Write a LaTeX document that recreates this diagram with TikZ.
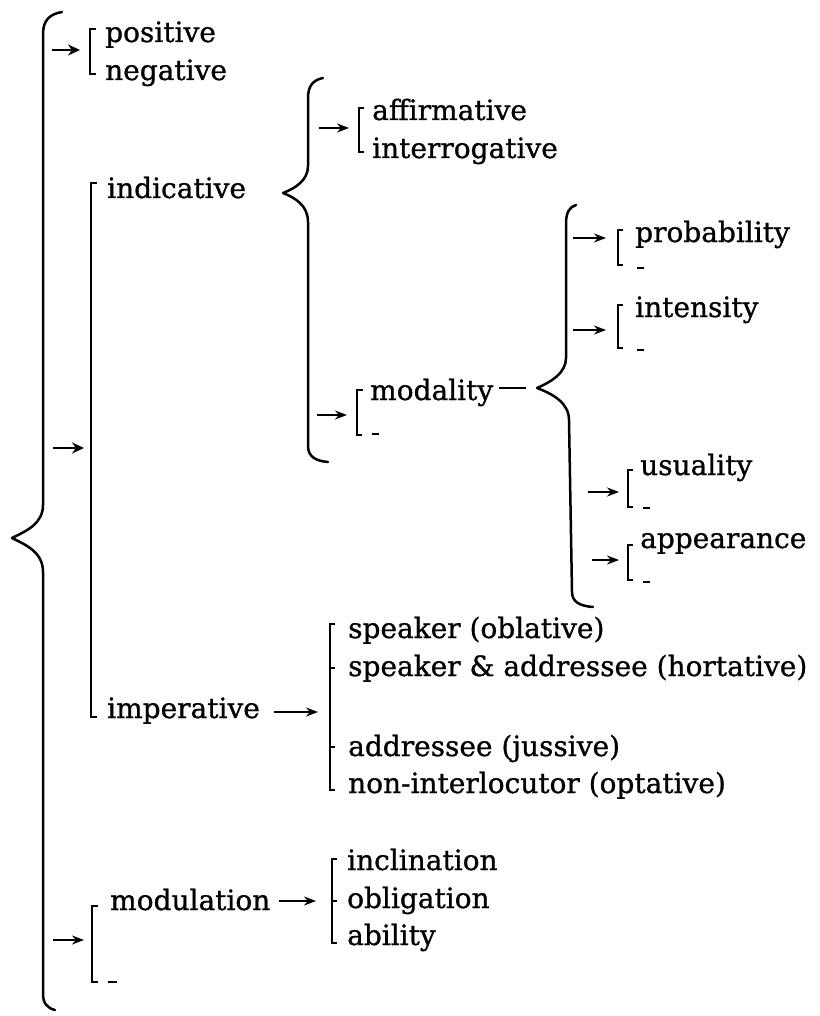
\documentclass[tikz,border=0pt]{standalone}
\usepackage{fontspec}
\setmainfont{DejaVu Serif}[FakeBold=0.9]
\usetikzlibrary{arrows.meta}

\begin{document}
\begin{tikzpicture}[x=1pt,y=-1pt,
  lbl/.style={anchor=base west, inner sep=0pt, font=\fontsize{28}{34}\selectfont},
  brk/.style={line width=2pt},
  brace/.style={line width=2.5pt, line cap=round, line join=round},
  tick/.style={line width=2.2pt},
  arr/.style={line width=1.7pt, -{Stealth[length=12pt,width=9pt]}},
  arrbold/.style={line width=2.8pt, -{Stealth[length=12pt,width=11pt]}}
]
\useasboundingbox (0,0) rectangle (819,1016);

% ---- terms ----
\node[lbl] (pos)  at (105,42)  {positive};
\node[lbl] (neg)  at (105,80)  {negative};
\node[lbl] (ind)  at (107,198) {indicative};
\node[lbl] (aff)  at (372,120) {affirmative};
\node[lbl] (intg) at (372,158) {interrogative};
\node[lbl] (moda) at (370,400) {modality};
\node[lbl] (prob) at (635,242) {probability};
\node[lbl] (inte) at (635,317) {intensity};
\node[lbl] (usu)  at (640,475) {usuality};
\node[lbl] (app)  at (640,548) {appearance};
\node[lbl] (imp)  at (107,718) {imperative};
\node[lbl] (ob)   at (348,638) {speaker (oblative)};
\node[lbl] (ho)   at (348,676) {speaker \& addressee (hortative)};
\node[lbl] (ju)   at (348,756) {addressee (jussive)};
\node[lbl] (op)   at (348,793) {non-interlocutor (optative)};
\node[lbl] (modu) at (110,910) {modulation};
\node[lbl] (incl) at (347,870) {inclination};
\node[lbl] (obl)  at (347,908) {obligation};
\node[lbl] (abil) at (347,945) {ability};

% ---- outer brace ----
\draw[brace] (62,12) .. controls (50,14) and (43,20) .. (43,34)
  -- (43,505) .. controls (43,524) and (26,531) .. (12,538)
  .. controls (26,545) and (43,552) .. (43,572)
  -- (43,994) .. controls (43,1003) and (47,1008) .. (55,1010);

% ---- indicative brace ----
\coordinate (indcusp) at (283,193);
\draw[brace] (323,78) .. controls (313,80) and (308,86) .. (308,98)
  -- (308,166) .. controls (308,180) and (296,188) .. (indcusp)
  .. controls (296,198) and (308,206) .. (308,222)
  -- (308,446) .. controls (308,456) and (315,461) .. (328,462);

% ---- modality brace ----
\coordinate (modcusp) at (537,388);
\draw[brace] (576,205) .. controls (569,207) and (566,213) .. (566,224)
  -- (566,358) .. controls (566,373) and (551,382) .. (modcusp)
  .. controls (553,394) and (569,403) .. (569,420)
  -- (572,592) .. controls (572,602) and (580,606) .. (593,607);

% ---- brackets ----
% polarity
\draw[brk] (96,29) -- (90,29) -- (90,74) -- (96,74);
% indicative / imperative
\draw[brk] (97,183) -- (91,183) -- (91,717) -- (97,717);
% affirmative / interrogative
\draw[brk] (364,108) -- (359,108) -- (359,152) -- (364,152);
% modality
\draw[brk] (363,390) -- (357,390) -- (357,435) -- (362,435);
\draw[tick] (372,434) -- (379,434);
% probability
\draw[brk] (623,230) -- (618,230) -- (618,265) -- (623,265);
\draw[tick] (637,268) -- (644,268);
% intensity
\draw[brk] (623,305) -- (618,305) -- (618,348) -- (623,348);
\draw[tick] (637,350) -- (644,350);
% usuality
\draw[brk] (633,470) -- (628,470) -- (628,507) -- (633,507);
\draw[tick] (643,508) -- (650,508);
% appearance
\draw[brk] (633,545) -- (628,545) -- (628,580) -- (633,580);
\draw[tick] (643,582) -- (650,582);
% imperative addressees
\draw[brk] (335,624) -- (330,624) -- (330,790) -- (335,790);
\draw[tick] (330,668) -- (335,668);
\draw[tick] (330,747) -- (335,747);
% modulation types
\draw[brk] (337,859) -- (332,859) -- (332,943) -- (337,943);
\draw[tick] (332,901) -- (337,901);
% modulation
\draw[brk] (98,906) -- (92,906) -- (92,982) -- (98,982);
\draw[tick] (108,982) -- (117,982);

% ---- entry points ----
\coordinate (eP)   at (52,50);   \coordinate (bP)   at (80,50);
\coordinate (eI)   at (53,448);  \coordinate (bI)   at (84,448);
\coordinate (eM)   at (53,940);  \coordinate (bM)   at (84,940);
\coordinate (eAff) at (319,128); \coordinate (bAff) at (349,128);
\coordinate (eMod) at (317,415); \coordinate (bMod) at (347,415);
\coordinate (ePr)  at (573,238); \coordinate (bPr)  at (606,238);
\coordinate (eIn)  at (573,330); \coordinate (bIn)  at (606,330);
\coordinate (eUs)  at (588,492); \coordinate (bUs)  at (619,492);
\coordinate (eAp)  at (592,560); \coordinate (bAp)  at (619,560);
\coordinate (bImp) at (318,712);
\coordinate (bMdl) at (316,901);
\coordinate (dash) at (526,388);

% ---- connectors ----
\draw[arrbold] (eP) -- (bP);
\draw[arrbold] (eI) -- (bI);
\draw[arr] (eM) -- (bM);
\draw[arr] (eAff) -- (bAff);
\draw[arr] (eMod) -- (bMod);
\draw[arr] (ePr) -- (bPr);
\draw[arr] (eIn) -- (bIn);
\draw[arr] (eUs) -- (bUs);
\draw[arr] (eAp) -- (bAp);
\draw[arr] ([xshift=14pt]imp.base east) ++(0,-6) -- (bImp);
\draw[arr] ([xshift=8pt]modu.base east) ++(0,-9) -- (bMdl);
\draw[line width=1.8pt] ([xshift=6pt]moda.base east) ++(0,-12) -- (dash);
\end{tikzpicture}
\end{document}
